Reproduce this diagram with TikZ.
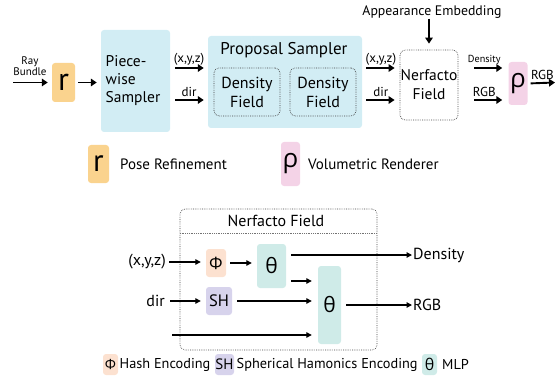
\documentclass[tikz,border=0pt]{standalone}
\usepackage{fontspec}
\setmainfont{PT Sans}
\newfontfamily\grk{Open Sans}
\usetikzlibrary{arrows.meta}
\definecolor{corange}{HTML}{FAD38E}
\definecolor{cblue}{HTML}{D2EDF4}
\definecolor{cpink}{HTML}{F4D3E7}
\definecolor{cpeach}{HTML}{FCE1D0}
\definecolor{cpurple}{HTML}{D7D3EC}
\definecolor{cteal}{HTML}{CFEBE8}
\tikzset{
  fbox/.style={rounded corners=3pt, inner sep=0pt, align=center},
  dbox/.style={draw=black!75, dash pattern=on 0.7pt off 1.1pt, line width=0.7pt, rounded corners=5pt, inner sep=0pt, align=center},
  arr/.style={-{Triangle[length=6pt,width=7.5pt]}, line width=1.9pt},
  sarr/.style={-{Triangle[length=5.5pt,width=5.5pt]}, line width=1.2pt},
  lbl/.style={inner sep=1pt, font=\fontsize{13}{14}\selectfont},
}
\begin{document}
\begin{tikzpicture}[x=1pt,y=-1pt]
\useasboundingbox (0,0) rectangle (557,377);
% ---------- top row
\node[fbox, fill=corange, minimum width=23pt, minimum height=39pt, font=\fontsize{32}{32}\selectfont] (r) at (63.5,82.5) {r};
\node[fbox, fill=cblue, minimum width=69pt, minimum height=102pt] (pw) at (135.5,81) {};
\node[align=left, font=\fontsize{15.5}{18}\selectfont, inner sep=0pt] (pwt) at (133,81) {Piece-\\wise\\Sampler};
\node[fbox, fill=cblue, minimum width=154pt, minimum height=92pt] (ps) at (285,82) {};
\node[font=\fontsize{17}{17}\selectfont, inner sep=0pt] (pst) at (284,50) {Proposal Sampler};
\node[dbox, minimum width=66pt, minimum height=48pt, font=\fontsize{16}{19}\selectfont] (df1) at (247,92) {Density\\Field};
\node[dbox, minimum width=66pt, minimum height=48pt, font=\fontsize{16}{19}\selectfont] (df2) at (323,92) {Density\\Field};
\node[dbox, minimum width=58pt, minimum height=70pt, font=\fontsize{15.5}{19}\selectfont] (nf) at (429,85) {Nerfacto\\Field};
\node[fbox, fill=cpink, minimum width=19pt, minimum height=43pt, font=\grk\fontsize{26}{26}\selectfont] (rho) at (518,83.5) {ρ};
\node[font=\fontsize{13.8}{14}\selectfont, inner sep=0pt] (app) at (432,12) {Appearance Embedding};
\node[align=center, font=\fontsize{11}{10}\selectfont, inner sep=0pt] (ray) at (30,66) {Ray\\Bundle};
\coordinate (rayin) at (13,82.5);
\coordinate (rgbout) at (555,82.5);
\coordinate (ya) at (0,68);
\coordinate (yb) at (0,100);
% arrows
\draw[arr, shorten >=4pt] (rayin) -- (r.west);
\draw[arr, shorten <=3pt, shorten >=4pt] (r.east) -- (pw.west |- r.east);
\draw[arr, shorten <=5pt, shorten >=4pt] (pw.east |- ya) -- node[lbl, above=1pt]{(x,y,z)} (ps.west |- ya);
\draw[arr, shorten <=5pt, shorten >=4pt] (pw.east |- yb) -- node[lbl, above=1pt]{dir} (ps.west |- yb);
\draw[arr, shorten <=4pt, shorten >=5pt] (ps.east |- ya) -- node[lbl, above=1pt]{(x,y,z)} (nf.west |- ya);
\draw[arr, shorten <=4pt, shorten >=5pt] (ps.east |- yb) -- node[lbl, above=1pt]{dir} (nf.west |- yb);
\draw[arr, shorten >=6pt] (app.south -| nf.north) -- (nf.north);
\draw[arr, shorten <=16pt, shorten >=6pt] (nf.east |- ya) -- node[inner sep=1pt, above=1pt, font=\fontsize{10.2}{10}\selectfont, xshift=1pt]{Density} (rho.west |- ya);
\draw[arr, shorten <=16pt, shorten >=6pt] (nf.east |- yb) -- node[lbl, above=1pt, xshift=1pt]{RGB} (rho.west |- yb);
\draw[arr, shorten <=3pt] (rho.east) -- node[inner sep=1pt, above=1pt, xshift=1pt, font=\fontsize{13}{13}\selectfont]{RGB} (rgbout);
% ---------- legend top
\node[fbox, fill=corange, minimum width=21pt, minimum height=38pt, font=\fontsize{31}{31}\selectfont] (lr) at (98.5,164) {r};
\node[anchor=west, inner sep=0pt, font=\fontsize{15}{15}\selectfont] (lrt) at (120,164) {Pose Refinement};
\node[fbox, fill=cpink, minimum width=19pt, minimum height=44pt, font=\grk\fontsize{26}{26}\selectfont] (lrho) at (290.5,164) {ρ};
\node[anchor=west, inner sep=0pt, font=\fontsize{15}{15}\selectfont] (lrhot) at (308,164) {Volumetric Renderer};
% ---------- bottom: Nerfacto field detail
\node[dbox, line width=0.6pt, minimum width=197pt, minimum height=141pt] (nfb) at (278.5,279.5) {};
\node[font=\fontsize{16}{16}\selectfont, inner sep=0pt] (nfbt) at (276,221) {Nerfacto Field};
\coordinate (sep) at (0,233);
\draw[dash pattern=on 0.6pt off 1.2pt, line width=0.6pt, black!55] (nfb.west |- sep) -- (nfb.east |- sep);
\node[fbox, fill=cpeach, minimum width=20pt, minimum height=28pt, font=\grk\fontsize{17}{17}\selectfont] (phi) at (216,263) {Φ};
\node[fbox, fill=cpurple, minimum width=26pt, minimum height=28pt, font=\fontsize{16.5}{16}\selectfont] (sh) at (219,301) {SH};
\node[fbox, fill=cteal, minimum width=29pt, minimum height=44pt, font=\grk\fontsize{21}{21}\selectfont] (th1) at (271.5,266) {θ};
\node[fbox, fill=cteal, minimum width=23pt, minimum height=78pt, font=\grk\fontsize{21}{21}\selectfont] (th2) at (329.5,305) {θ};
\node[anchor=east, inner sep=0pt, font=\fontsize{16}{16}\selectfont] (bxyz) at (166,262) {(x,y,z)};
\node[anchor=east, inner sep=0pt, font=\fontsize{16}{16}\selectfont] (bdir) at (165,301) {dir};
\node[anchor=west, inner sep=0pt, font=\fontsize{16}{16}\selectfont] (bden) at (413,255) {Density};
\node[anchor=west, inner sep=0pt, font=\fontsize{16}{16}\selectfont] (brgb) at (413,305) {RGB};
\coordinate (yc) at (0,281);
\coordinate (yd) at (0,335);
\coordinate (ye) at (172,335);
\coordinate (yf) at (0,255);
\draw[sarr, shorten <=3pt, shorten >=5pt] (bxyz.east) -- (phi.west |- bxyz.east);
\draw[sarr, shorten <=4pt, shorten >=5pt] (phi.east) -- (th1.west |- phi.east);
\draw[sarr, shorten <=5pt, shorten >=5pt] (bdir.east) -- (sh.west |- bdir.east);
\draw[sarr, shorten <=5pt, shorten >=1pt] (th1.east |- yf) -- (bden.west);
\draw[sarr, shorten <=5pt, shorten >=6pt] (th1.east |- yc) -- (th2.west |- yc);
\draw[sarr, shorten <=5pt, shorten >=6pt] (sh.east) -- (th2.west |- sh.east);
\draw[sarr, shorten >=6pt] (ye) -- (th2.west |- yd);
\draw[sarr, shorten <=5pt, shorten >=1pt] (th2.east |- brgb.west) -- (brgb.west);
% ---------- legend bottom
\node[fbox, fill=cpeach, minimum width=15pt, minimum height=21pt, font=\grk\fontsize{14}{14}\selectfont] (lphi) at (110.5,364.5) {Φ};
\node[anchor=west, inner sep=0pt, font=\fontsize{14.3}{14}\selectfont] (lphit) at (119.5,364.5) {Hash Encoding};
\node[fbox, fill=cpurple, minimum width=19pt, minimum height=21pt, font=\fontsize{15}{15}\selectfont] (lsh) at (224.5,364.5) {SH};
\node[anchor=west, inner sep=0pt, font=\fontsize{14.3}{14}\selectfont] (lsht) at (236.5,364.5) {Spherical Hamonics Encoding};
\node[fbox, fill=cteal, minimum width=15pt, minimum height=21pt, font=\grk\fontsize{16}{16}\selectfont] (lth) at (429.5,364.5) {θ};
\node[anchor=west, inner sep=0pt, font=\fontsize{14.3}{14}\selectfont] (ltht) at (442,364.5) {MLP};
\end{tikzpicture}
\end{document}
